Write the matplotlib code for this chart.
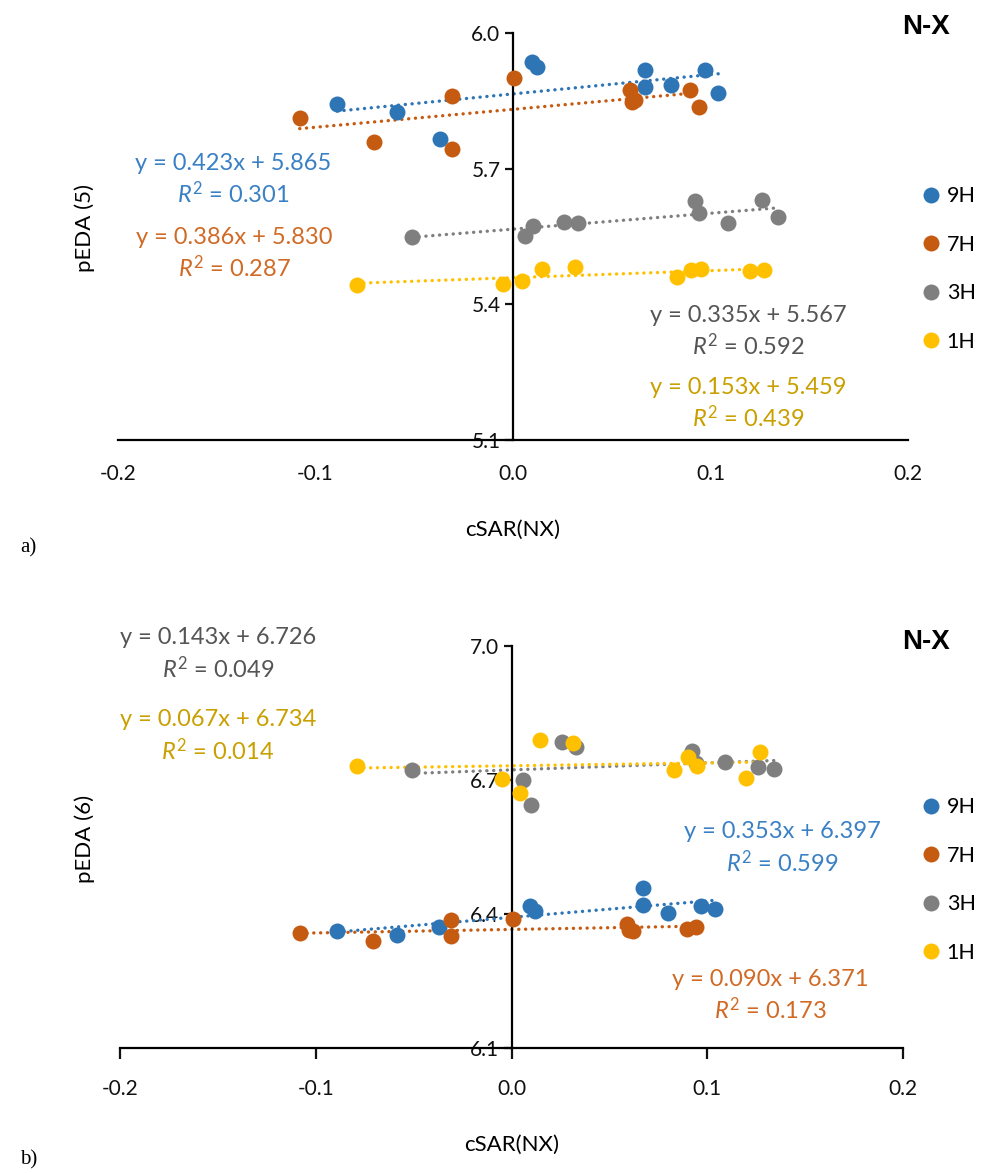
import numpy as np
import matplotlib
matplotlib.use("Agg")
import matplotlib.pyplot as plt
from matplotlib.lines import Line2D

plt.rcParams['font.family'] = ['Lato', 'DejaVu Sans']
plt.rcParams['mathtext.fontset'] = 'custom'
plt.rcParams['mathtext.rm'] = 'Lato'
plt.rcParams['mathtext.it'] = 'Lato:italic'
plt.rcParams['axes.unicode_minus'] = False

# cSAR(NX) per series (same in both panels)
x_9H = [-0.089, -0.0585, -0.037, 0.0095, 0.012, 0.067, 0.067, 0.080, 0.097, 0.104]
x_7H = [-0.108, -0.0705, -0.031, -0.031, 0.0007, 0.059, 0.060, 0.062, 0.0895, 0.094]
x_3H = [-0.051, 0.006, 0.010, 0.026, 0.033, 0.092, 0.094, 0.109, 0.126, 0.134]
x_1H = [-0.079, -0.005, 0.0045, 0.0145, 0.0315, 0.083, 0.090, 0.095, 0.120, 0.127]

# panel a) pEDA(5)
a_9H = [5.843, 5.825, 5.766, 5.935, 5.924, 5.918, 5.880, 5.884, 5.918, 5.868]
a_7H = [5.812, 5.759, 5.860, 5.743, 5.901, 5.875, 5.848, 5.852, 5.875, 5.836]
a_3H = [5.549, 5.551, 5.574, 5.581, 5.579, 5.629, 5.601, 5.579, 5.630, 5.593]
a_1H = [5.443, 5.445, 5.451, 5.479, 5.483, 5.460, 5.476, 5.478, 5.473, 5.476]

# panel b) pEDA(6)
b_9H = [6.361, 6.352, 6.371, 6.417, 6.406, 6.459, 6.421, 6.403, 6.417, 6.411]
b_7H = [6.358, 6.339, 6.386, 6.351, 6.388, 6.378, 6.365, 6.361, 6.367, 6.371]
b_3H = [6.722, 6.699, 6.643, 6.784, 6.774, 6.764, 6.737, 6.740, 6.729, 6.725]
b_1H = [6.731, 6.703, 6.671, 6.789, 6.783, 6.722, 6.752, 6.731, 6.705, 6.763]

series = ['9H', '7H', '3H', '1H']
colors = {'9H': '#2E75B6', '7H': '#C55A11', '3H': '#7F7F7F', '1H': '#FFC000'}
eq_colors = {'9H': '#3A80C4', '7H': '#D06A25', '3H': '#555555', '1H': '#C9A000'}
xs = {'9H': x_9H, '7H': x_7H, '3H': x_3H, '1H': x_1H}

eq_a = {'9H': ('y = 0.423x + 5.865', '0.301'), '7H': ('y = 0.386x + 5.830', '0.287'),
        '3H': ('y = 0.335x + 5.567', '0.592'), '1H': ('y = 0.153x + 5.459', '0.439')}
eq_b = {'9H': ('y = 0.353x + 6.397', '0.599'), '7H': ('y = 0.090x + 6.371', '0.173'),
        '3H': ('y = 0.143x + 6.726', '0.049'), '1H': ('y = 0.067x + 6.734', '0.014')}

# label centres in pixels (x, y of first line)
pos_a = {'9H': (233, 163), '7H': (234, 237), '3H': (748, 315), '1H': (748, 387)}
pos_b = {'9H': (782, 832), '7H': (770, 979), '3H': (218, 638), '1H': (218, 720)}

W, H = 984, 1173
fig = plt.figure(figsize=(W / 100, H / 100), dpi=100)

tick_font = ['Liberation Sans Narrow', 'Lato', 'DejaVu Sans']


def panel(rect, ys, ylim, yticks, ylabel, eqs, pos, xticks_marks, leg_y, nx_y, tag, tag_y):
    ax = fig.add_axes(rect)
    ax.spines['top'].set_visible(False)
    ax.spines['right'].set_visible(False)
    ax.spines['left'].set_position(('data', 0))
    ax.spines['left'].set_linewidth(1.6)
    ax.spines['bottom'].set_linewidth(1.6)
    for s in series:
        x = np.array(xs[s])
        y = np.array(ys[s])
        k, b = np.polyfit(x, y, 1)
        xx = np.array([x.min(), x.max()])
        ax.plot(xx, k * xx + b, color=colors[s], lw=2.4, ls=(0, (0.05, 2.0)),
                dash_capstyle='round', zorder=2)
        ax.plot(x, y, 'o', color=colors[s], ms=11.5, mec='none', zorder=3)
    ax.set_xlim(-0.2, 0.2)
    ax.set_ylim(*ylim)
    ax.set_xticks([-0.2, -0.1, 0.0, 0.1, 0.2])
    ax.set_xticklabels(['-0.2', '-0.1', '0.0', '0.1', '0.2'], family=tick_font, fontsize=15)
    ax.set_yticks(yticks)
    ax.set_yticklabels(['%.1f' % v for v in yticks], family=tick_font, fontsize=15)
    ax.tick_params(axis='y', length=6, width=1.6, pad=3, colors='#111111')
    if xticks_marks:
        ax.tick_params(axis='x', length=8, width=1.6, pad=14, colors='#111111')
    else:
        ax.tick_params(axis='x', length=0, pad=17, colors='#111111')
    ax.set_xlabel('cSAR(NX)', family=tick_font, fontsize=16, labelpad=26)
    ax.patch.set_alpha(0)

    for s in series:
        cx, cy = pos[s]
        fig.text(cx / W, 1 - cy / H, eqs[s][0], color=eq_colors[s], fontsize=17,
                 ha='center', va='center')
        fig.text(cx / W, 1 - (cy + 31) / H, r'$R^2$ = ' + eqs[s][1], color=eq_colors[s],
                 fontsize=17, ha='center', va='center')

    handles = [Line2D([], [], ls='none', marker='o', ms=11.5, color=colors[s], mec='none')
               for s in series]
    fig.legend(handles, series, loc='center left', bbox_to_anchor=(922 / W, 1 - leg_y / H),
               frameon=False, fontsize=15.5, handletextpad=0.35, labelspacing=1.33,
               handlelength=0.8, borderpad=0, borderaxespad=0)
    fig.text(926 / W, 1 - nx_y / H, 'N-X', fontsize=20, fontweight='bold',
             family=['Liberation Sans', 'DejaVu Sans'], ha='center', va='center')
    fig.text(20 / W, 1 - tag_y / H, tag, fontsize=15, family=['Liberation Serif', 'DejaVu Serif'],
             ha='left', va='center')
    fig.text(85 / W, rect[1] + rect[3] * 0.52, ylabel, rotation=90, fontsize=16,
             ha='center', va='center')
    return ax


ax_a = panel([118 / W, 1 - 440 / H, 790 / W, 407 / H],
             {'9H': a_9H, '7H': a_7H, '3H': a_3H, '1H': a_1H},
             (5.1, 6.0), [5.1, 5.4, 5.7, 6.0], 'pEDA (5)', eq_a, pos_a, False, 269, 27, 'a)', 548)

ax_b = panel([120 / W, 1 - 1048 / H, 783 / W, 402 / H],
             {'9H': b_9H, '7H': b_7H, '3H': b_3H, '1H': b_1H},
             (6.1, 7.0), [6.1, 6.4, 6.7, 7.0], 'pEDA (6)', eq_b, pos_b, True, 880, 642, 'b)', 1160)

fig.savefig('out.png', dpi=100)
